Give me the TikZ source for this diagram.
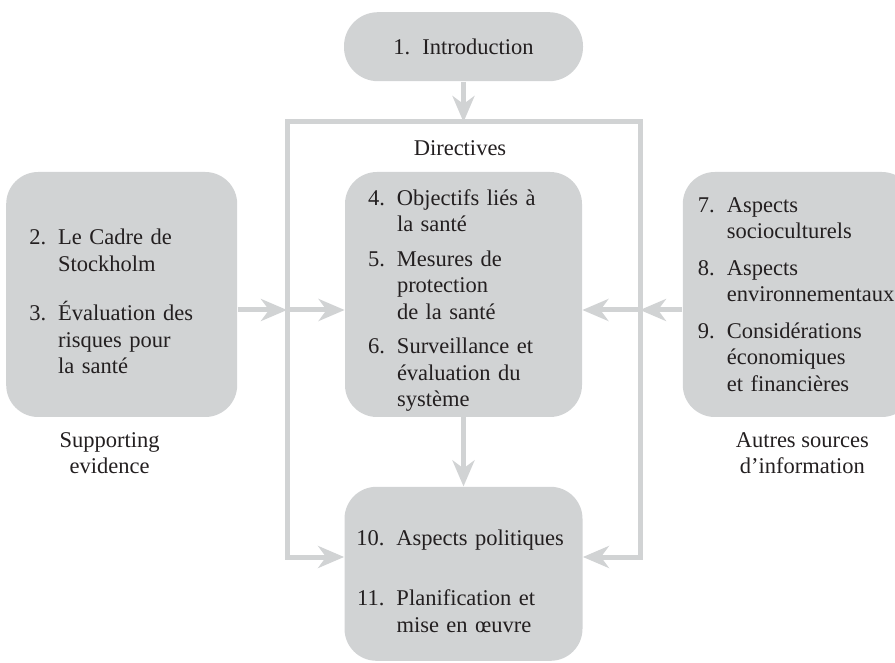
\documentclass[tikz,border=0pt]{standalone}
\usepackage{fontspec}
\setmainfont{Liberation Serif}
\usetikzlibrary{arrows.meta,positioning,calc}

\definecolor{panelgray}{RGB}{209,211,212}
\definecolor{inkgray}{RGB}{35,31,32}

% number column of the lists
\newlength{\nrwd}
\setlength{\nrwd}{20pt}
\newcommand{\nr}[1]{\makebox[\nrwd][r]{#1}\hspace{6pt}}

\tikzset{
  panel/.style={fill=panelgray, rounded corners=16pt, inner xsep=0pt, inner ysep=0pt,
    align=left, text=inkgray, font=\fontsize{11.25pt}{13.25pt}\selectfont},
  caption/.style={text=inkgray, align=center, font=\fontsize{11.25pt}{13.25pt}\selectfont},
  flow/.style={draw=panelgray, line width=2.5pt, ->}
}

\begin{document}
\begin{tikzpicture}[x=0.5pt, y=-0.5pt, >={Stealth[length=13pt,width=11pt,inset=4pt]}]
\useasboundingbox (0,0) rectangle (895,663);

% Directives
\node[panel, text width=118.5pt, minimum height=122.5pt] (mid) at (463.5,294.5) {%
\rule{0pt}{13.8pt}\nr{4.}Objectifs liés à\\
\nr{}la santé\\[4pt]
\nr{5.}Mesures de\\
\nr{}protection\\
\nr{}de la santé\\[4pt]
\nr{6.}Surveillance et\\
\nr{}évaluation du\\
\nr{}système
};
\node[caption] (dirs) at (460,148) {Directives};

% Introduction
\node[panel, rounded corners=17pt, align=center, minimum width=119.5pt, minimum height=34.5pt,
  above=45pt of mid] (intro) {1.\hspace{6pt}Introduction};

% Supporting evidence
\node[panel, text width=115.5pt, minimum height=122.5pt, left=53.5pt of mid] (left) {%
\rule{0pt}{14.7pt}\nr{2.}Le Cadre de\\
\nr{}Stockholm\\[11.5pt]
\nr{3.}Évaluation des\\
\nr{}risques pour\\
\nr{}la santé
};
\node[caption, below=4pt of left, xshift=-6pt] (supp) {Supporting\\evidence};

% Autres sources
\node[panel, text width=115.5pt, minimum height=122.5pt, right=50pt of mid] (right) {%
\setlength{\nrwd}{16pt}%
\nr{7.}Aspects\\
\nr{}socioculturels\\[5pt]
\nr{8.}Aspects\\
\nr{}environnementaux\\[5pt]
\nr{9.}Considérations\\
\nr{}économiques\\
\nr{}et financières
};
\node[caption, below=4pt of right, xshift=2pt] (autres) {Autres sources\\d'information};

% Aspects politiques
\node[panel, text width=119pt, minimum height=87pt, below=34.5pt of mid] (bot) {%
\rule{0pt}{15.2pt}\nr{10.}Aspects politiques\\[16.75pt]
\nr{11.}Planification et\\
\nr{}mise en œuvre
};

% cadre
\coordinate (ftl) at (287,122);
\coordinate (ftr) at (640,122);
\coordinate (fbl) at (287,557);
\coordinate (fbr) at (640,557);
\coordinate (rowl) at (287,310);
\coordinate (rowr) at (640,310);

\draw[flow] (intro) -- (intro |- ftl);
\draw[flow] (left.east |- rowl) -- (rowl);
\draw[flow] (rowl) -- (mid.west |- rowl);
\draw[flow] (right.west |- rowr) -- (rowr);
\draw[flow] (rowr) -- (mid.east |- rowr);
\draw[flow] (mid) -- (bot);
\draw[flow, <->, line join=miter] (bot.west |- fbl) -- (fbl) -- (ftl) -- (ftr) -- (fbr) -- (bot.east |- fbr);
\end{tikzpicture}
\end{document}
